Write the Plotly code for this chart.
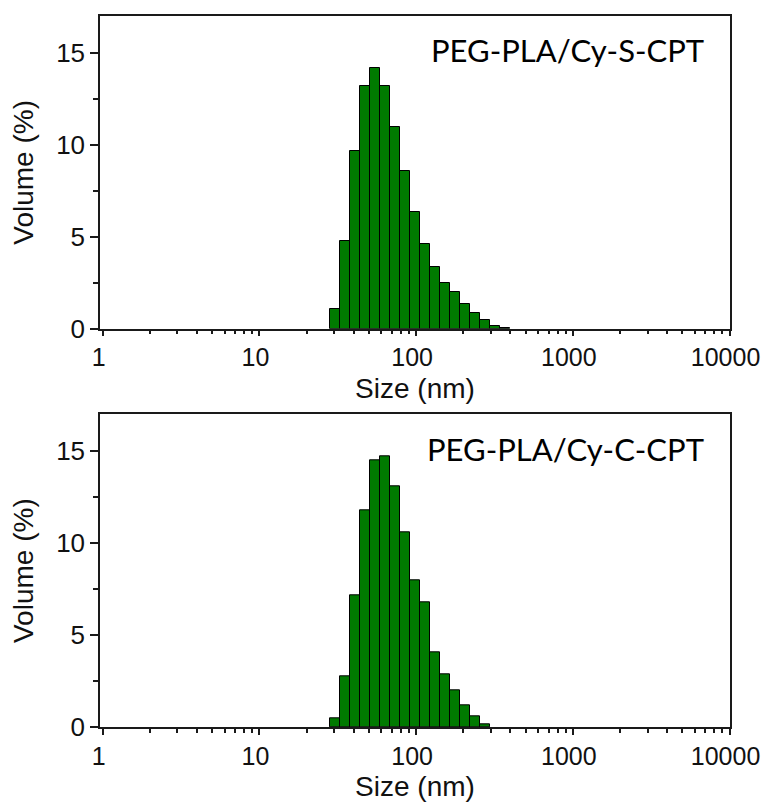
import plotly.graph_objects as go
from plotly.subplots import make_subplots

# ── data ─────────────────────────────────────────────────────────────────────
# Zetasizer size classes (bin lower edges, nm); last value closes the last bin
bin_edges_s = [28.21, 32.67, 37.84, 43.82, 50.75, 58.77, 68.06, 78.82, 91.28,
               105.7, 122.4, 141.8, 164.2, 190.1, 220.2, 255.0, 295.3, 342.0,
               396.1]
volume_s = [1.07, 4.77, 9.68, 13.18, 14.19, 13.18, 10.95, 8.56, 6.36, 4.59,
            3.37, 2.48, 1.99, 1.36, 0.88, 0.48, 0.17, 0.06]

bin_edges_c = [28.21, 32.67, 37.84, 43.82, 50.75, 58.77, 68.06, 78.82, 91.28,
               105.7, 122.4, 141.8, 164.2, 190.1, 220.2, 255.0, 295.3]
volume_c = [0.47, 2.76, 7.18, 11.79, 14.49, 14.71, 13.09, 10.58, 7.98, 6.79,
            4.08, 2.89, 1.99, 1.17, 0.58, 0.16]

labels = ['PEG-PLA/Cy-S-CPT', 'PEG-PLA/Cy-C-CPT']
x_tickvals = [1, 10, 100, 1000, 10000]
x_ticktext = ['1', '10', '100', '1000', '10000']

BAR_GREEN = '#007A00'
AXIS_COL = '#1a1a1a'
XTICK_FONT = dict(family='Liberation Sans, Arial, sans-serif', size=25, color='#111')
YTICK_FONT = dict(family='Liberation Sans, Arial, sans-serif', size=26, color='#111')
TITLE_FONT = dict(family='Liberation Sans, Arial, sans-serif', size=28, color='#111')

fig = make_subplots(rows=2, cols=1)

for row, (edges, vals) in enumerate([(bin_edges_s, volume_s), (bin_edges_c, volume_c)], start=1):
    widths = [edges[i + 1] - edges[i] for i in range(len(vals))]
    fig.add_trace(go.Bar(
        x=edges[:len(vals)], y=vals, width=widths, offset=0,
        marker=dict(color=BAR_GREEN, line=dict(color='#000', width=1)),
        showlegend=False,
    ), row=row, col=1)

for row in (1, 2):
    fig.update_xaxes(
        type='log', range=[-0.017, 4.003],
        tickmode='array', tickvals=x_tickvals, ticktext=x_ticktext,
        ticks='outside', ticklen=6, tickwidth=1.5, tickcolor=AXIS_COL,
        ticklabelshift=-4,
        minor=dict(ticks='outside', ticklen=4, tickwidth=1.5, tickcolor=AXIS_COL,
                   dtick='D1', showgrid=False),
        showline=True, linecolor=AXIS_COL, linewidth=1.5, mirror=True,
        showgrid=False, zeroline=False,
        tickfont=XTICK_FONT,
        title=dict(text='Size (nm)', font=TITLE_FONT, standoff=8),
        row=row, col=1,
    )
    fig.update_yaxes(
        range=[0, 17], tickmode='linear', tick0=0, dtick=5,
        ticks='outside', ticklen=8, tickwidth=1.5, tickcolor=AXIS_COL,
        minor=dict(ticks='outside', ticklen=5, tickwidth=1.5, tickcolor=AXIS_COL,
                   dtick=2.5, showgrid=False),
        showline=True, linecolor=AXIS_COL, linewidth=1.5, mirror=True,
        showgrid=False, zeroline=False,
        tickfont=YTICK_FONT,
        title=dict(text='Volume (%)', font=TITLE_FONT, standoff=14),
        row=row, col=1,
    )

fig.update_layout(
    xaxis=dict(domain=[0, 1]),
    yaxis=dict(domain=[0.5602, 1.0]),
    xaxis2=dict(domain=[0, 1]),
    yaxis2=dict(domain=[0.0, 0.4398]),
    bargap=0,
)

# sample labels, top-right of each panel
for i, lab in enumerate(labels):
    fig.add_annotation(
        text=lab, xref='x domain' if i == 0 else 'x2 domain',
        yref='y domain' if i == 0 else 'y2 domain',
        x=0.962, y=0.89, xanchor='right', yanchor='middle', showarrow=False,
        font=dict(family='Lato, Carlito, sans-serif', size=31, color='#000'),
    )

# the page keeps its 8px body margin, so the figure is 8px smaller and shifted
fig.update_layout(
    width=762, height=795,
    margin=dict(l=92, r=40, t=6, b=75),
    plot_bgcolor='white', paper_bgcolor='white',
)

fig.write_html('out.html')
